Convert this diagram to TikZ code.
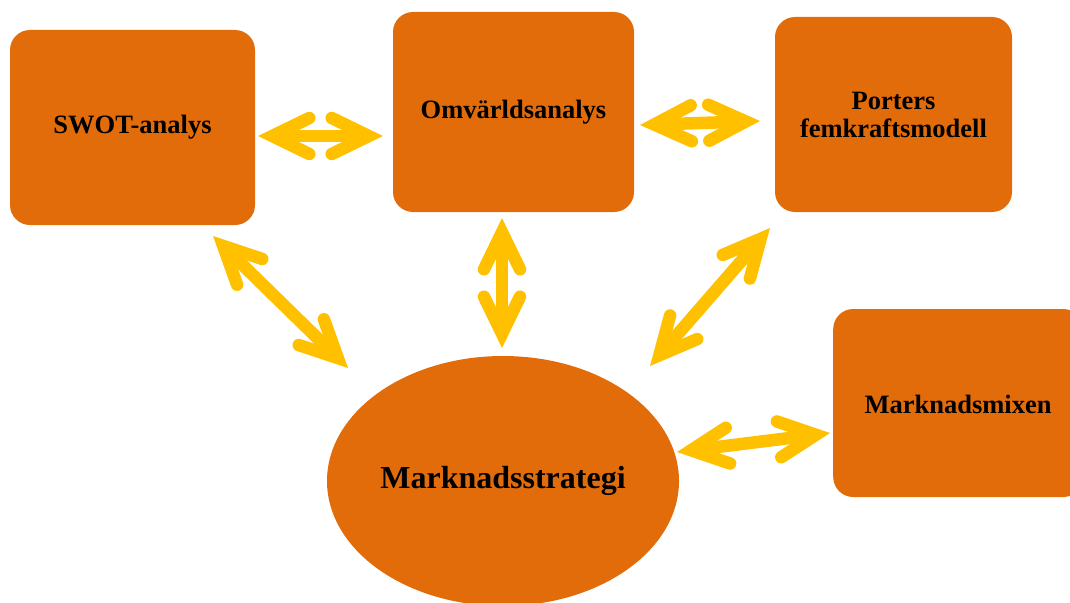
\documentclass[tikz,border=0pt]{standalone}
\usepackage{fontspec}
\setmainfont{Liberation Serif}
\usetikzlibrary{arrows.meta,shapes.geometric}
\definecolor{boxorange}{HTML}{E36C0A}
\definecolor{arrowyellow}{HTML}{FFC000}
\tikzset{
  box/.style={fill=boxorange, draw=none, rounded corners=20pt, inner sep=0pt, align=center,
    font=\fontsize{26.5}{28}\selectfont\bfseries},
  bigell/.style={ellipse, fill=boxorange, draw=none, inner sep=0pt,
    minimum width=352pt, minimum height=250pt, font=\fontsize{32}{36}\selectfont\bfseries},
  dblarrow/.style={draw=arrowyellow, line width=12.5pt,
    {Straight Barb[length=37pt, width=36pt, line cap=round, line join=miter]}-{Straight Barb[length=37pt, width=36pt, line cap=round, line join=miter]}}
}
\begin{document}
\begin{tikzpicture}[x=1pt,y=-1pt]
\useasboundingbox (0,0) rectangle (1070,602);
\begin{scope}
\clip (0,0) rectangle (1070,602);
\node[box, minimum width=245pt, minimum height=195pt] (swot) at (132.5,127.5) {\raisebox{-3pt}{SWOT-analys}};
\node[box, minimum width=241pt, minimum height=200pt] (omv) at (513.5,112) {Omvärldsanalys};
\node[box, minimum width=237pt, minimum height=195pt] (porter) at (893.5,114.5) {Porters\\femkraftsmodell};
\node[box, minimum width=250pt, minimum height=188pt, anchor=west] (mix) at (833,403) {};
\node[font=\fontsize{26.5}{28}\selectfont\bfseries] (mixtext) at (958,404) {Marknadsmixen};
\node[bigell] (strat) at (503,481) {\raisebox{-3pt}{Marknadsstrategi}};
\end{scope}
\coordinate (a1s) at (258,136); \coordinate (a1e) at (383,136);
\coordinate (a2s) at (640,125); \coordinate (a2e) at (760,121);
\coordinate (a3s) at (213,236); \coordinate (a3e) at (348,368);
\coordinate (a4s) at (502,218); \coordinate (a4e) at (502,348);
\coordinate (a5s) at (770,228); \coordinate (a5e) at (650,366);
\coordinate (a6s) at (677,452); \coordinate (a6e) at (830,433);
\draw[dblarrow] (a1s) -- (a1e);
\draw[dblarrow] (a2s) -- (a2e);
\draw[dblarrow] (a3s) -- (a3e);
\draw[dblarrow] (a4s) -- (a4e);
\draw[dblarrow] (a5s) -- (a5e);
\draw[dblarrow] (a6s) -- (a6e);
\end{tikzpicture}
\end{document}
